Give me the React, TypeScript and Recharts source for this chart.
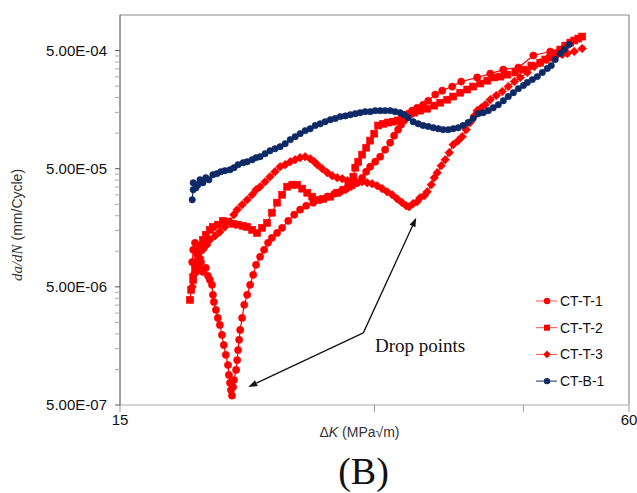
import React from 'react';
import { LineChart, Line, XAxis, YAxis, ReferenceLine } from 'recharts';

const RED = '#ff0000';
const NAVY = '#0d2a66';
const SANS = '"Liberation Sans", Arial, sans-serif';
const SERIF = '"Liberation Serif", "Times New Roman", serif';

// Axis ticks
const xDomain = [15, 60];
const xTicks = [15, 30, 45, 60];
const xTickLabels = ['15', '', '', '60'];
const yDomain = [5e-7, 1e-3];
const yMajorTicks = [5e-7, 5e-6, 5e-5, 5e-4];
const yMajorLabels = ['5.00E-07', '5.00E-06', '5.00E-05', '5.00E-04'];
const yMinorFactors = [2, 3, 4, 5, 6, 7, 8, 9];

// CT-T-1 (deep drop, then steep rise to the upper curve)
const t1K = [18.26, 18.31, 18.40, 18.50, 18.60, 18.70, 18.80, 18.95, 19.06, 19.16, 19.27, 19.32, 19.37, 19.48, 19.58, 19.69, 19.80, 19.90, 20.01, 20.13, 20.18, 20.24, 20.29, 20.35, 20.41, 20.46, 20.58, 20.64, 20.69, 20.75, 20.81, 20.92, 21.04, 21.21, 21.38, 21.56, 21.73, 21.97, 22.21, 22.45, 22.69, 23.01, 23.33, 23.72, 24.11, 24.50, 24.91, 25.39, 25.88, 26.38, 26.89, 27.33, 27.79, 28.24, 28.62, 29.01, 29.33, 29.65, 30.06, 30.47, 30.88, 31.31, 31.65, 31.99, 32.25, 32.52, 32.88, 33.24, 33.70, 34.25, 34.73, 35.40, 36.08, 37.07, 37.99, 39.68, 41.12, 42.61, 44.39, 46.24, 48.42, 50.44];
const t1Rate = [8.1e-6, 1.03e-5, 1.18e-5, 9.34e-6, 7.25e-6, 8.1e-6, 6.7e-6, 7.25e-6, 6.2e-6, 5.73e-6, 5.2e-6, 4.28e-6, 3.73e-6, 3.19e-6, 2.73e-6, 2.38e-6, 1.96e-6, 1.61e-6, 1.33e-6, 1.09e-6, 8.98e-7, 7.7e-7, 6.7e-7, 6.0e-7, 7.1e-7, 8.14e-7, 9.9e-7, 1.2e-6, 1.46e-6, 1.78e-6, 2.16e-6, 2.73e-6, 3.52e-6, 4.28e-6, 5.2e-6, 6.32e-6, 7.68e-6, 8.98e-6, 1.03e-5, 1.18e-5, 1.30e-5, 1.43e-5, 1.58e-5, 1.81e-5, 2.04e-5, 2.25e-5, 2.43e-5, 2.58e-5, 2.73e-5, 2.90e-5, 3.07e-5, 3.19e-5, 3.39e-5, 3.59e-5, 3.80e-5, 4.19e-5, 4.72e-5, 5.20e-5, 5.73e-5, 6.32e-5, 7.24e-5, 8.30e-5, 9.52e-5, 1.07e-4, 1.18e-4, 1.28e-4, 1.43e-4, 1.55e-4, 1.64e-4, 1.74e-4, 1.88e-4, 2.12e-4, 2.29e-4, 2.48e-4, 2.73e-4, 2.96e-4, 3.19e-4, 3.45e-4, 3.59e-4, 4.54e-4, 4.91e-4, 5.41e-4];

// CT-T-2 (middle band, steep rise to the dense upper curve)
const t2K = [18.15, 18.21, 18.31, 18.40, 18.45, 18.55, 18.65, 18.80, 18.95, 19.16, 19.32, 19.58, 19.85, 20.13, 20.41, 20.69, 20.98, 21.21, 21.50, 21.79, 22.09, 22.39, 22.69, 23.01, 23.33, 23.65, 23.98, 24.30, 24.64, 24.98, 25.32, 25.67, 26.09, 26.60, 27.11, 27.56, 27.94, 28.09, 28.32, 28.47, 28.70, 29.01, 29.33, 29.65, 29.98, 30.30, 30.72, 31.14, 31.56, 31.99, 32.34, 32.70, 33.06, 33.42, 33.97, 34.63, 35.30, 35.88, 36.57, 37.17, 37.89, 38.62, 39.25, 40.01, 40.79, 41.57, 42.26, 43.08, 44.03, 45.00, 45.99, 47.12, 47.77, 48.42, 49.08, 49.76, 50.44, 51.13, 51.69, 52.26, 52.82];
const t2Rate = [3.88e-6, 4.72e-6, 5.73e-6, 6.97e-6, 8.1e-6, 9.9e-6, 1.11e-5, 1.25e-5, 1.38e-5, 1.52e-5, 1.61e-5, 1.68e-5, 1.81e-5, 1.78e-5, 1.71e-5, 1.68e-5, 1.64e-5, 1.61e-5, 1.52e-5, 1.43e-5, 1.58e-5, 1.74e-5, 2.12e-5, 2.58e-5, 3.01e-5, 3.52e-5, 3.66e-5, 3.66e-5, 3.39e-5, 3.13e-5, 2.90e-5, 2.73e-5, 2.78e-5, 2.90e-5, 3.13e-5, 3.32e-5, 3.52e-5, 3.66e-5, 4.28e-5, 5.10e-5, 5.73e-5, 6.57e-5, 7.53e-5, 8.64e-5, 9.90e-5, 1.16e-4, 1.20e-4, 1.23e-4, 1.25e-4, 1.28e-4, 1.35e-4, 1.43e-4, 1.46e-4, 1.49e-4, 1.55e-4, 1.61e-4, 1.71e-4, 1.81e-4, 1.92e-4, 2.04e-4, 2.20e-4, 2.34e-4, 2.48e-4, 2.63e-4, 2.78e-4, 2.96e-4, 3.01e-4, 3.13e-4, 3.26e-4, 3.45e-4, 3.73e-4, 3.95e-4, 4.20e-4, 4.36e-4, 4.72e-4, 5.10e-4, 5.51e-4, 5.84e-4, 6.08e-4, 6.32e-4, 6.57e-4];

// CT-T-3 (hump, second drop, lower right curve)
const t3K = [18.26, 18.31, 18.40, 18.50, 18.65, 18.80, 19.00, 19.16, 19.43, 19.69, 19.96, 20.24, 20.45, 20.64, 20.92, 21.21, 21.50, 21.73, 21.97, 22.27, 22.57, 22.88, 23.20, 23.52, 23.85, 24.17, 24.50, 24.84, 25.18, 25.46, 25.67, 26.02, 26.38, 26.74, 27.11, 27.48, 27.86, 28.24, 28.62, 29.01, 29.41, 29.81, 30.22, 30.63, 31.05, 31.48, 31.91, 32.34, 32.70, 32.97, 33.33, 33.70, 33.97, 34.35, 34.63, 35.02, 35.30, 35.59, 35.98, 36.37, 36.77, 37.17, 37.68, 38.09, 38.51, 38.93, 39.36, 39.68, 40.12, 40.56, 41.12, 41.80, 42.49, 43.19, 43.91, 44.63, 45.49, 46.36, 47.12, 47.90, 48.68, 49.35, 50.03, 50.72, 51.69, 52.82];
const t3Rate = [5.0e-6, 6.32e-6, 7.68e-6, 6.7e-6, 8.8e-6, 1.03e-5, 1.13e-5, 1.25e-5, 1.35e-5, 1.46e-5, 1.61e-5, 1.78e-5, 2.04e-5, 2.25e-5, 2.48e-5, 2.73e-5, 3.01e-5, 3.32e-5, 3.52e-5, 3.88e-5, 4.28e-5, 4.72e-5, 5.20e-5, 5.41e-5, 5.73e-5, 5.96e-5, 6.20e-5, 6.32e-5, 6.08e-5, 5.73e-5, 5.41e-5, 5.00e-5, 4.63e-5, 4.36e-5, 4.19e-5, 4.11e-5, 3.95e-5, 3.88e-5, 3.80e-5, 3.88e-5, 3.80e-5, 3.73e-5, 3.59e-5, 3.39e-5, 3.19e-5, 3.01e-5, 2.78e-5, 2.58e-5, 2.43e-5, 2.38e-5, 2.53e-5, 2.63e-5, 2.84e-5, 2.95e-5, 3.19e-5, 3.66e-5, 4.19e-5, 4.63e-5, 5.30e-5, 5.96e-5, 6.84e-5, 7.99e-5, 8.64e-5, 9.33e-5, 1.07e-4, 1.23e-4, 1.40e-4, 1.55e-4, 1.64e-4, 1.74e-4, 1.92e-4, 2.08e-4, 2.25e-4, 2.48e-4, 2.73e-4, 2.96e-4, 3.26e-4, 3.66e-4, 3.95e-4, 4.20e-4, 4.45e-4, 4.63e-4, 4.63e-4, 4.72e-4, 4.91e-4, 5.20e-4];

// CT-B-1
const b1K = [18.26, 18.31, 18.31, 18.45, 18.55, 18.65, 18.80, 18.95, 19.11, 19.32, 19.53, 19.74, 19.96, 20.24, 20.46, 20.69, 20.98, 21.21, 21.50, 21.73, 21.97, 22.27, 22.57, 22.88, 23.20, 23.52, 23.85, 24.17, 24.50, 24.84, 25.18, 25.53, 25.88, 26.23, 26.60, 26.96, 27.33, 27.71, 28.09, 28.47, 28.85, 29.25, 29.65, 30.06, 30.47, 30.88, 31.31, 31.73, 32.17, 32.52, 32.88, 33.33, 33.79, 34.25, 34.73, 35.21, 35.69, 36.17, 36.67, 37.17, 37.68, 38.19, 38.72, 39.25, 39.79, 40.34, 40.90, 41.45, 42.03, 42.61, 43.19, 43.79, 44.39, 45.00, 45.49, 46.11, 46.74, 47.38, 48.03, 48.55, 49.08, 49.76, 50.30, 50.99];
const b1Rate = [2.73e-5, 3.32e-5, 3.80e-5, 3.45e-5, 3.66e-5, 4.03e-5, 3.80e-5, 4.19e-5, 4.03e-5, 4.45e-5, 4.54e-5, 4.72e-5, 4.81e-5, 4.90e-5, 5.10e-5, 5.41e-5, 5.62e-5, 5.73e-5, 5.96e-5, 6.20e-5, 6.32e-5, 6.70e-5, 7.10e-5, 7.38e-5, 7.68e-5, 8.14e-5, 8.81e-5, 9.33e-5, 9.90e-5, 1.05e-4, 1.09e-4, 1.16e-4, 1.20e-4, 1.25e-4, 1.30e-4, 1.33e-4, 1.38e-4, 1.40e-4, 1.43e-4, 1.46e-4, 1.49e-4, 1.52e-4, 1.52e-4, 1.55e-4, 1.55e-4, 1.55e-4, 1.55e-4, 1.52e-4, 1.49e-4, 1.43e-4, 1.35e-4, 1.25e-4, 1.20e-4, 1.16e-4, 1.14e-4, 1.11e-4, 1.09e-4, 1.07e-4, 1.07e-4, 1.09e-4, 1.11e-4, 1.16e-4, 1.23e-4, 1.33e-4, 1.46e-4, 1.49e-4, 1.55e-4, 1.64e-4, 1.74e-4, 1.88e-4, 2.04e-4, 2.20e-4, 2.38e-4, 2.53e-4, 2.68e-4, 2.84e-4, 3.01e-4, 3.26e-4, 3.52e-4, 3.73e-4, 4.20e-4, 4.72e-4, 5.10e-4, 5.62e-4];

// Annotation arrows (data coordinates): vertex and two tips
const arrowVertex = { x: 29.1, y: 2.04e-6 };
const arrowTipA = { x: 21.27, y: 7.1e-7 };
const arrowTipB = { x: 33.61, y: 1.92e-5 };

const seriesNames = ['CT-T-1', 'CT-T-2', 'CT-T-3', 'CT-B-1'];

const build = (ks: number[], rs: number[]) => ks.map((k, i) => ({ k, rate: rs[i] }));
const t1Data = build(t1K, t1Rate);
const t2Data = build(t2K, t2Rate);
const t3Data = build(t3K, t3Rate);
const b1Data = build(b1K, b1Rate);

const yMinorTicks = yMajorTicks.slice(0, 3).flatMap((m) => yMinorFactors.map((f) => m * f));
const yTicks = [...yMajorTicks, ...yMinorTicks];

const circleDot = (color: string, r: number) => (p: any) => (
  <circle key={`c${p.index}`} cx={p.cx} cy={p.cy} r={r} fill={color} stroke={color} strokeWidth={0.6} />
);
const squareDot = (color: string, s: number) => (p: any) => (
  <rect key={`s${p.index}`} x={p.cx - s / 2} y={p.cy - s / 2} width={s} height={s} fill={color} stroke={color} strokeWidth={0.6} />
);
const diamondDot = (color: string, s: number) => (p: any) => (
  <polygon
    key={`d${p.index}`}
    points={`${p.cx},${p.cy - s} ${p.cx + s},${p.cy} ${p.cx},${p.cy + s} ${p.cx - s},${p.cy}`}
    fill={color}
    stroke={color}
    strokeWidth={0.6}
  />
);

const YTick = (props: any) => {
  const { x, y, payload } = props;
  const v = payload.value;
  const idx = yMajorTicks.findIndex((t) => Math.abs(t - v) / t < 1e-6);
  if (idx >= 0) {
    return (
      <g>
        <line x1={x - 5} x2={x} y1={y} y2={y} stroke="#595959" />
        <text x={x - 13} y={y} dy={5} textAnchor="end" fontSize={15} fontFamily={SANS} fill="#111">
          {yMajorLabels[idx]}
        </text>
      </g>
    );
  }
  return <line x1={x - 5} x2={x} y1={y} y2={y} stroke="#aaaaaa" />;
};

const Arrow = (props: any) => {
  const { x1, y1, x2, y2 } = props;
  if ([x1, y1, x2, y2].some((v) => typeof v !== 'number' || isNaN(v))) return <g />;
  const ang = Math.atan2(y2 - y1, x2 - x1);
  const L = 9;
  const W = 3.2;
  const bx = x2 - L * Math.cos(ang);
  const by = y2 - L * Math.sin(ang);
  const px = -Math.sin(ang) * W;
  const py = Math.cos(ang) * W;
  return (
    <g>
      <line x1={x1} y1={y1} x2={bx} y2={by} stroke="#111" strokeWidth={1.3} />
      <polygon points={`${x2},${y2} ${bx + px},${by + py} ${bx - px},${by - py}`} fill="#111" />
    </g>
  );
};

const YLabel = (props: any) => {
  const vb = props.viewBox || { x: 0, y: 15, width: 120, height: 390 };
  const cx = vb.x + 17;
  const cy = vb.y + vb.height / 2 + 15;
  return (
    <text x={cx} y={cy} transform={`rotate(-90, ${cx}, ${cy})`} textAnchor="middle" dominantBaseline="central" fontSize={14} fill="#333">
      <tspan fontFamily={SERIF} fontStyle="italic" fontSize={15}>da/dN</tspan>
      <tspan fontFamily={SANS}> (mm/Cycle)</tspan>
    </text>
  );
};

const XLabel = (props: any) => {
  const vb = props.viewBox || { x: 120, y: 405, width: 509, height: 30 };
  const cx = vb.x + vb.width / 2 - 15;
  const cy = 437;
  return (
    <text x={cx} y={cy} textAnchor="middle" fontSize={14} fontFamily={SANS} fill="#333">
      <tspan>Δ</tspan>
      <tspan fontStyle="italic">K</tspan>
      <tspan> (MPa√m)</tspan>
    </text>
  );
};

const legendItems = [
  { name: seriesNames[0], color: RED, shape: 'circle' },
  { name: seriesNames[1], color: RED, shape: 'square' },
  { name: seriesNames[2], color: RED, shape: 'diamond' },
  { name: seriesNames[3], color: NAVY, shape: 'circle' },
];

export default function App() {
  return (
    <div style={{ position: 'absolute', left: 0, top: 0, width: 637, height: 493, background: '#fff' }}>
      <LineChart
        width={637}
        height={493}
        margin={{ top: 15, right: 8, bottom: 58, left: 0 }}
        style={{ fontFamily: SANS }}
      >
        <XAxis
          dataKey="k"
          type="number"
          scale="log"
          domain={xDomain}
          allowDataOverflow
          ticks={xTicks}
          interval={0}
          height={30}
          tickSize={7}
          tickMargin={2}
          tickFormatter={(v: number) => xTickLabels[xTicks.indexOf(v)] ?? ''}
          tick={{ fontSize: 15, fill: '#111', fontFamily: SANS }}
          tickLine={{ stroke: '#999' }}
          axisLine={{ stroke: '#d4d4d4', strokeWidth: 2 }}
          label={{ content: XLabel } as any}
        />
        <YAxis
          type="number"
          scale="log"
          domain={yDomain}
          allowDataOverflow
          ticks={yTicks}
          interval={0}
          width={120}
          tickSize={0}
          tickMargin={0}
          tickLine={false}
          tick={YTick}
          axisLine={{ stroke: '#404040' }}
          label={{ content: YLabel } as any}
        />
        <ReferenceLine y={yDomain[1]} stroke="#8a8a8a" strokeWidth={1.2} />
        <ReferenceLine x={xDomain[1]} stroke="#8a8a8a" strokeWidth={1.2} />
        <Line data={t1Data} dataKey="rate" name={seriesNames[0]} stroke={RED} strokeWidth={1.2} dot={circleDot(RED, 3.6)} activeDot={false} isAnimationActive={false} />
        <Line data={t2Data} dataKey="rate" name={seriesNames[1]} stroke={RED} strokeWidth={1.2} dot={squareDot(RED, 7)} activeDot={false} isAnimationActive={false} />
        <Line data={t3Data} dataKey="rate" name={seriesNames[2]} stroke={RED} strokeWidth={1.2} dot={diamondDot(RED, 4.3)} activeDot={false} isAnimationActive={false} />
        <Line data={b1Data} dataKey="rate" name={seriesNames[3]} stroke={NAVY} strokeWidth={1.2} dot={circleDot(NAVY, 3.2)} activeDot={false} isAnimationActive={false} />
        <ReferenceLine segment={[arrowVertex, arrowTipA]} shape={Arrow} />
        <ReferenceLine segment={[arrowVertex, arrowTipB]} shape={Arrow} />
      </LineChart>
      <svg width={637} height={493} style={{ position: 'absolute', left: 0, top: 0, pointerEvents: 'none' }}>
        {legendItems.map((it, i) => {
          const y = 301 + i * 26.7;
          return (
            <g key={it.name}>
              <line x1={536} x2={557} y1={y} y2={y} stroke={it.color} strokeWidth={1} opacity={it.color === RED ? 0.7 : 1} />
              {it.shape === 'circle' && <circle cx={547} cy={y} r={3.2} fill={it.color} />}
              {it.shape === 'square' && <rect x={544} y={y - 3} width={6} height={6} fill={it.color} />}
              {it.shape === 'diamond' && <polygon points={`547,${y - 3.8} 550.8,${y} 547,${y + 3.8} 543.2,${y}`} fill={it.color} />}
              <text x={560} y={y + 5} fontSize={14} fontFamily={SANS} fill="#111">{it.name}</text>
            </g>
          );
        })}
        <text x={375} y={352} fontSize={19} fontFamily={SERIF} fill="#111">Drop points</text>
        <text x={363.5} y={484} fontSize={38} fontFamily={SERIF} textAnchor="middle" fill="#111">(B)</text>
      </svg>
    </div>
  );
}
